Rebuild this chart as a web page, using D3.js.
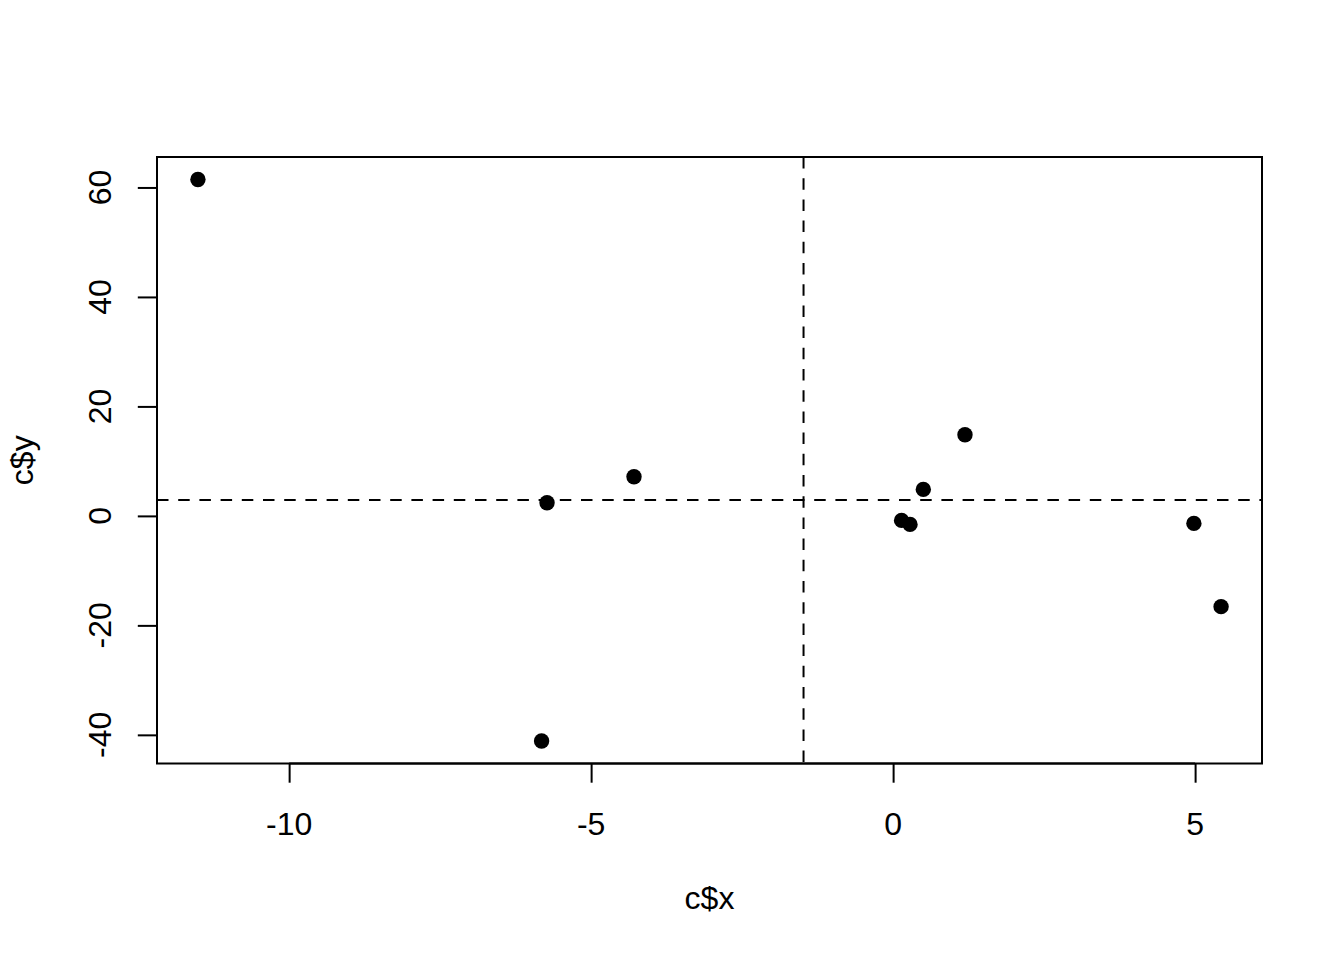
<!DOCTYPE html>
<html>
<head>
<meta charset="utf-8">
<script src="https://cdn.jsdelivr.net/npm/d3@7"></script>
<style>
  html, body { margin: 0; padding: 0; background: #fff; }
  svg { display: block; }
  text { font-family: "Liberation Sans", Arial, Helvetica, sans-serif; fill: #000; }
</style>
</head>
<body>
<svg id="chart" width="1344" height="960"></svg>
<script>
// Data
const xValues = [-11.51, -5.73, -4.29, -5.82, 0.14, 0.28, 0.50, 1.19, 4.98, 5.43];
const yValues = [61.46, 2.41, 7.16, -41.13, -0.82, -1.55, 4.84, 14.83, -1.37, -16.58];
const xTicks = [-10, -5, 0, 5];
const yTicks = [-40, -20, 0, 20, 40, 60];
const xLabel = "c$x";
const yLabel = "c$y";

const W = 1344, H = 960;
const plot = { left: 157, right: 1262, top: 157, bottom: 763.5 };

function padExtent(vals) {
  const [a, b] = d3.extent(vals);
  const r = b - a;
  return [a - 0.04 * r, b + 0.04 * r];
}

const x = d3.scaleLinear().domain(padExtent(xValues)).range([plot.left, plot.right]);
const y = d3.scaleLinear().domain(padExtent(yValues)).range([plot.bottom, plot.top]);

const svg = d3.select("#chart");

svg.append("defs").append("clipPath").attr("id", "clip")
  .append("rect")
  .attr("x", plot.left).attr("y", plot.top)
  .attr("width", plot.right - plot.left).attr("height", plot.bottom - plot.top);

// Axes (R style: line spans first to last tick, ticks outward)
const xAxis = d3.axisBottom(x).tickValues(xTicks).tickSize(19.2).tickPadding(0).tickFormat(d3.format("d"));
const gx = svg.append("g").attr("transform", `translate(0,${plot.bottom})`).call(xAxis);
gx.select(".domain").remove();
gx.selectAll(".tick line").attr("stroke", "#000").attr("stroke-width", 2);
gx.selectAll(".tick text").remove();
gx.append("line")
  .attr("x1", x(xTicks[0])).attr("x2", x(xTicks[xTicks.length - 1]))
  .attr("stroke", "#000").attr("stroke-width", 2);

const yAxis = d3.axisLeft(y).tickValues(yTicks).tickSize(19.2).tickPadding(0).tickFormat(d3.format("d"));
const gy = svg.append("g").attr("transform", `translate(${plot.left},0)`).call(yAxis);
gy.select(".domain").remove();
gy.selectAll(".tick line").attr("stroke", "#000").attr("stroke-width", 2);
gy.selectAll(".tick text").remove();
gy.append("line")
  .attr("y1", y(yTicks[0])).attr("y2", y(yTicks[yTicks.length - 1]))
  .attr("stroke", "#000").attr("stroke-width", 2);

// Tick labels
svg.append("g").selectAll("text").data(xTicks).join("text")
  .attr("x", d => x(d)).attr("y", 834.5)
  .attr("text-anchor", "middle")
  .style("font-size", "32px")
  .text(d => d3.format("d")(d).replace("−", "-"));

svg.append("g").selectAll("text").data(yTicks).join("text")
  .attr("transform", d => `translate(111,${y(d)}) rotate(-90)`)
  .attr("text-anchor", "middle")
  .style("font-size", "32px")
  .text(d => d3.format("d")(d).replace("−", "-"));

// Axis titles
svg.append("text")
  .attr("x", (plot.left + plot.right) / 2).attr("y", 909)
  .attr("text-anchor", "middle").style("font-size", "32px")
  .text(xLabel);
svg.append("text")
  .attr("transform", `translate(33,${(plot.top + plot.bottom) / 2}) rotate(-90)`)
  .attr("text-anchor", "middle").style("font-size", "32px")
  .text(yLabel);

// Mean reference lines (dashed)
const mx = d3.mean(xValues), my = d3.mean(yValues);
const gl = svg.append("g").attr("clip-path", "url(#clip)");
gl.append("line")
  .attr("x1", x(mx)).attr("x2", x(mx))
  .attr("y1", plot.top).attr("y2", plot.bottom)
  .attr("stroke", "#000").attr("stroke-width", 2).attr("stroke-dasharray", "11.5,9.7");
gl.append("line")
  .attr("x1", plot.left).attr("x2", plot.right)
  .attr("y1", y(my)).attr("y2", y(my))
  .attr("stroke", "#000").attr("stroke-width", 2).attr("stroke-dasharray", "11.5,9.7");

// Points
const pts = xValues.map((v, i) => ({ x: v, y: yValues[i] }));
svg.append("g").selectAll("circle").data(pts).join("circle")
  .attr("cx", d => x(d.x)).attr("cy", d => y(d.y))
  .attr("r", 7.7).attr("fill", "#000");

// Box
svg.append("rect")
  .attr("x", plot.left).attr("y", plot.top)
  .attr("width", plot.right - plot.left).attr("height", plot.bottom - plot.top)
  .attr("fill", "none").attr("stroke", "#000").attr("stroke-width", 2);
</script>
</body>
</html>
